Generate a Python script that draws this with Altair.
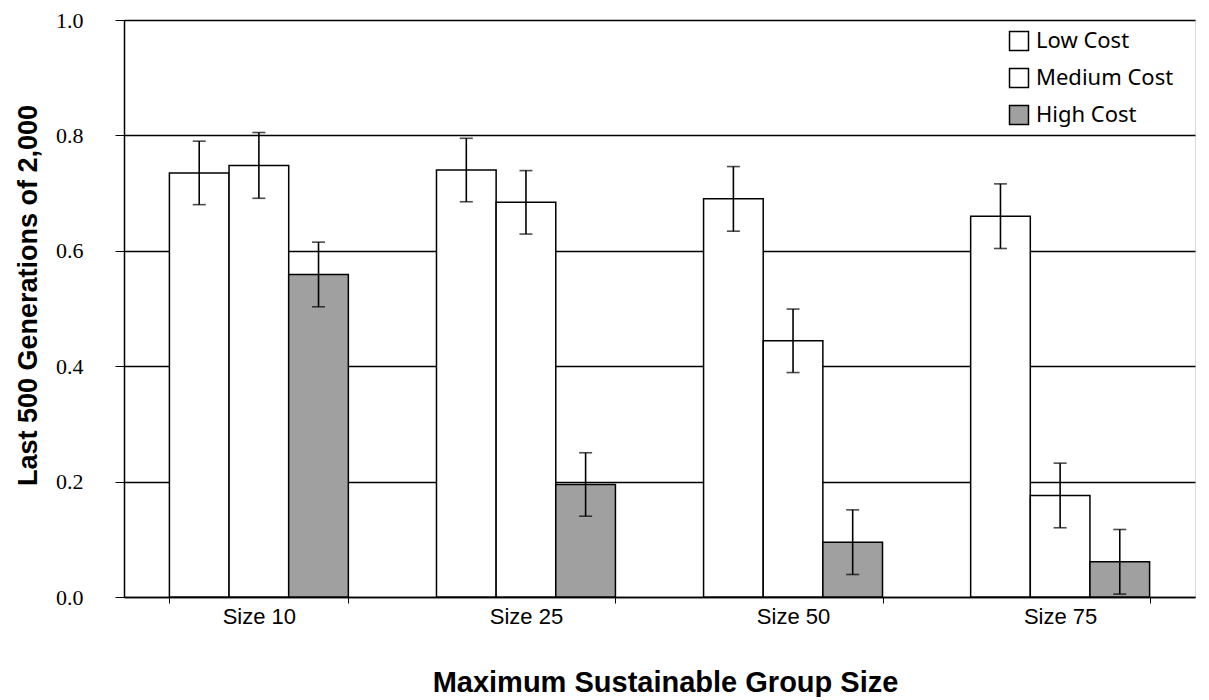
import altair as alt
import pandas as pd

groups = ["Size 10", "Size 25", "Size 50", "Size 75"]
series = ["Low Cost", "Medium Cost", "High Cost"]
low_vals = [0.735, 0.740, 0.690, 0.660]
med_vals = [0.748, 0.684, 0.444, 0.176]
high_vals = [0.559, 0.195, 0.095, 0.061]
low_err = [0.055, 0.055, 0.056, 0.056]
med_err = [0.057, 0.055, 0.055, 0.056]
high_err = [0.056, 0.055, 0.056, 0.056]

rows = []
for vals, errs, s in [(low_vals, low_err, "Low Cost"), (med_vals, med_err, "Medium Cost"), (high_vals, high_err, "High Cost")]:
    for g, v, e in zip(groups, vals, errs):
        rows.append({"group": g, "series": s, "value": v, "lo": max(v - e, 0), "hi": v + e})
df = pd.DataFrame(rows)

x = alt.X("group:N", sort=groups, scale=alt.Scale(paddingInner=0.33, paddingOuter=0.17),
          axis=alt.Axis(title="Maximum Sustainable Group Size", labelAngle=0, tickBand="extent",
                        tickSize=6, tickColor="black", domainColor="black", domainWidth=1.5,
                        labelFont="Liberation Sans", labelFontSize=22, labelColor="black", labelPadding=3,
                        titleFont="Liberation Sans", titleFontSize=29, titleFontWeight="bold",
                        titleColor="black", titleX=541, titleY=85, titleBaseline="middle",
                        titleAnchor="start", titleAlign="center"))
xo = alt.XOffset("series:N", sort=series)
y = alt.Y("value:Q", scale=alt.Scale(domain=[0, 1]),
          axis=alt.Axis(title="Last 500 Generations of 2,000", values=[0, 0.2, 0.4, 0.6, 0.8, 1.0],
                        format=".1f", grid=True, gridColor="black", gridWidth=1.5, gridOpacity=1,
                        tickSize=9, tickColor="black", domainColor="black", domainWidth=1.5,
                        labelFont="Liberation Serif", labelFontSize=22, labelColor="black",
                        labelPadding=32,
                        titleFont="Liberation Sans", titleFontSize=27, titleFontWeight="bold",
                        titleColor="black", titleX=-96, titleY=275, titleAngle=-90,
                        titleAlign="center", titleBaseline="middle"))

color = alt.Color("series:N", sort=series,
                  scale=alt.Scale(domain=series, range=["white", "white", "#a0a0a0"]),
                  legend=alt.Legend(title=None, orient="none", legendX=884, legendY=10,
                                    symbolType="square", symbolSize=360, symbolStrokeColor="black",
                                    symbolStrokeWidth=1.5, labelFont="Noto Sans", labelFontSize=22,
                                    labelColor="black", rowPadding=11, labelOffset=6))

bars = alt.Chart(df).mark_bar(stroke="black", strokeWidth=1.5).encode(
    x=x, xOffset=xo, y=y, color=color)

rules = alt.Chart(df).mark_rule(color="black", strokeWidth=1.6).encode(
    x=alt.X("group:N", sort=groups), xOffset=xo, y="lo:Q", y2="hi:Q")

caps_hi = alt.Chart(df).mark_tick(color="black", thickness=1.6, size=13, orient="horizontal").encode(
    x=alt.X("group:N", sort=groups), xOffset=xo, y="hi:Q")
caps_lo = alt.Chart(df).mark_tick(color="black", thickness=1.6, size=13, orient="horizontal").encode(
    x=alt.X("group:N", sort=groups), xOffset=xo, y="lo:Q")

chart = alt.layer(bars, rules, caps_hi, caps_lo).properties(
    width=1071, height=577, autosize=alt.AutoSizeParams(type="none"),
    padding={"left": 116, "top": 12, "right": 5, "bottom": 100}
).configure_view(stroke=None).configure(background="white")

chart.save("out.html", embed_options={"renderer": "svg", "actions": False})
